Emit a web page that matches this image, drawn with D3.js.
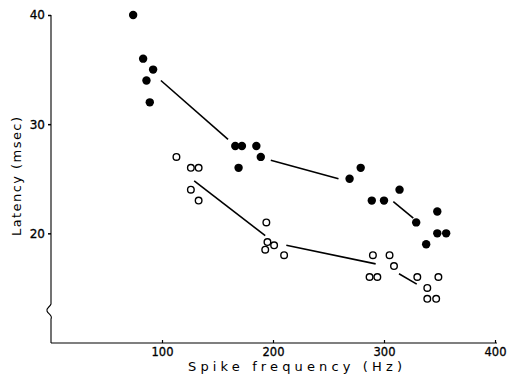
<!DOCTYPE html>
<html>
<head>
<meta charset="utf-8">
<script src="https://cdn.jsdelivr.net/npm/d3@7"></script>
<style>
  html, body { margin: 0; padding: 0; background: #fff; }
  svg { display: block; }
  text { font-family: "DejaVu Sans", sans-serif; fill: #000; }
</style>
</head>
<body>
<svg id="chart" width="511" height="380"></svg>
<script>
// Filled circles: spike frequency (Hz) and latency (msec)
const filledFreq = [74, 83, 86, 92, 89, 166, 172, 185, 189, 169, 269, 279, 289, 300, 314, 329, 348, 338, 348, 356];
const filledLatency = [40, 36, 34, 35, 32, 28, 28, 28, 27, 26, 25, 26, 23, 23, 24, 21, 22, 19, 20, 20];

// Open circles
const openFreq = [113, 126, 133, 126, 133, 194, 195, 201, 193, 210, 290, 305, 309, 287, 294, 330, 349, 339, 339, 347];
const openLatency = [27, 26, 26, 24, 23, 21, 19.2, 18.9, 18.5, 18, 18, 18, 17, 16, 16, 16, 16, 15, 14, 14];

// Fitted segments: [freq1, latency1, freq2, latency2]
const filledSegments = [[99, 34, 159.5, 28.6], [198, 26.7, 259, 25], [308.4, 22.9, 326.4, 21.4]];
const openSegments = [[129, 24.8, 193, 19.8], [212, 18.9, 292.5, 17.2], [313.5, 16.3, 329.5, 15.35]];

// Axis ticks
const xTicks = [100, 200, 300, 400];
const yTicks = [20, 30, 40];

const svg = d3.select("#chart");

const x = d3.scaleLinear().domain([0, 400]).range([51, 495]);
const y = d3.scaleLinear().domain([10, 40]).range([342.5, 15]);

const axisY0 = 343;

// X axis: line plus short inward ticks
const xAxis = d3.axisBottom(x)
  .tickValues(xTicks)
  .tickSizeInner(-3)
  .tickSizeOuter(0)
  .tickFormat(d3.format("d"));

const gx = svg.append("g")
  .attr("transform", `translate(0,${axisY0})`)
  .call(xAxis);
gx.select(".domain").remove();
gx.append("line")
  .attr("x1", x(0)).attr("x2", x(400) + 2)
  .attr("y1", 0).attr("y2", 0)
  .attr("stroke", "#000").attr("stroke-width", 1.2);
gx.selectAll(".tick line").attr("stroke", "#000").attr("stroke-width", 1.2);
gx.selectAll(".tick text")
  .attr("y", 13)
  .attr("dy", null)
  .attr("font-size", 11.5)
  .attr("font-family", "DejaVu Sans, sans-serif")
  .attr("stroke", "#000")
  .attr("stroke-width", 0.3)
  .attr("fill", "#000");

// Y axis: outward ticks, axis line drawn separately with a break
const yAxis = d3.axisLeft(y)
  .tickValues(yTicks)
  .tickSizeInner(3)
  .tickSizeOuter(0)
  .tickPadding(3)
  .tickFormat(d3.format("d"));

const gy = svg.append("g")
  .attr("transform", `translate(${x(0)},0)`)
  .call(yAxis);
gy.select(".domain").remove();
gy.selectAll(".tick line").attr("stroke", "#000").attr("stroke-width", 1.5);
gy.selectAll(".tick text")
  .attr("font-size", 12)
  .attr("font-family", "DejaVu Sans, sans-serif")
  .attr("stroke", "#000")
  .attr("stroke-width", 0.3)
  .attr("fill", "#000");

// Vertical axis with a zig-zag break near the bottom
const ax = x(0);
const yTop = y(40);
svg.append("path")
  .attr("d",
    `M${ax},${yTop} L${ax},304 ` +
    `C${ax - 1},307 ${ax - 5},308 ${ax - 4},311 ` +
    `C${ax - 3},314 ${ax + 2},315 ${ax},319 ` +
    `L${ax},${axisY0}`)
  .attr("fill", "none")
  .attr("stroke", "#000")
  .attr("stroke-width", 1.1);

// Fitted segments
const segs = svg.append("g")
  .attr("stroke", "#000")
  .attr("stroke-width", 1.6)
  .attr("fill", "none");
segs.selectAll("line.filled")
  .data(filledSegments)
  .join("line")
  .attr("class", "filled")
  .attr("x1", d => x(d[0])).attr("y1", d => y(d[1]))
  .attr("x2", d => x(d[2])).attr("y2", d => y(d[3]));
segs.selectAll("line.open")
  .data(openSegments)
  .join("line")
  .attr("class", "open")
  .attr("x1", d => x(d[0])).attr("y1", d => y(d[1]))
  .attr("x2", d => x(d[2])).attr("y2", d => y(d[3]));

// Points
const filled = filledFreq.map((f, i) => ({ f, l: filledLatency[i] }));
const open = openFreq.map((f, i) => ({ f, l: openLatency[i] }));

svg.append("g").selectAll("circle")
  .data(filled)
  .join("circle")
  .attr("cx", d => x(d.f))
  .attr("cy", d => y(d.l))
  .attr("r", 4.2)
  .attr("fill", "#000");

svg.append("g").selectAll("circle")
  .data(open)
  .join("circle")
  .attr("cx", d => x(d.f))
  .attr("cy", d => y(d.l))
  .attr("r", 3.3)
  .attr("fill", "#fff")
  .attr("stroke", "#000")
  .attr("stroke-width", 1.4);

// Axis titles
svg.append("text")
  .attr("x", 188)
  .attr("y", 371)
  .attr("font-size", 13)
  .attr("textLength", 214)
  .attr("lengthAdjust", "spacing")
  .text("Spike frequency (Hz)");

svg.append("text")
  .attr("transform", "translate(21,236) rotate(-90)")
  .attr("x", 0)
  .attr("y", 0)
  .attr("font-size", 13)
  .attr("textLength", 119)
  .attr("lengthAdjust", "spacing")
  .text("Latency (msec)");
</script>
</body>
</html>
